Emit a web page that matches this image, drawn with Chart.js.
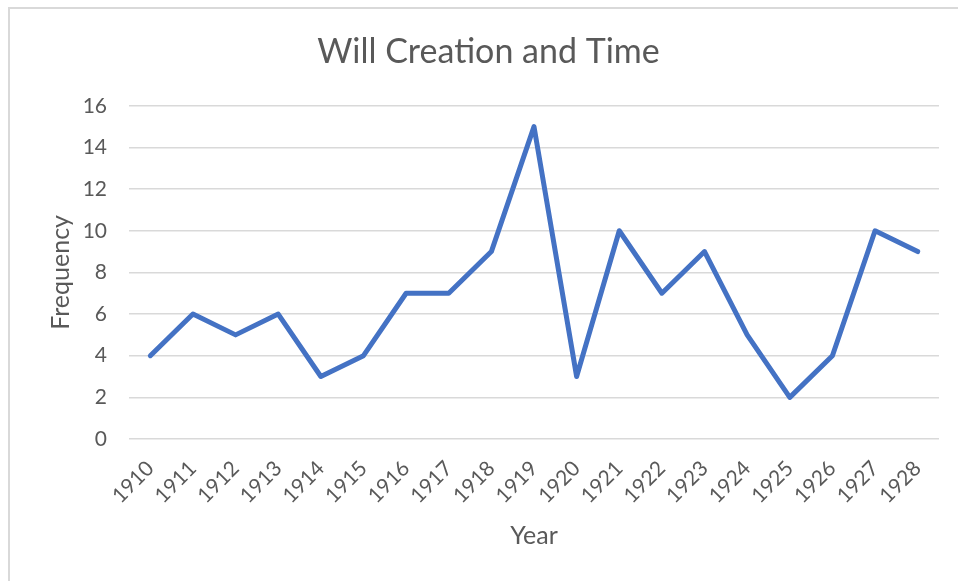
<!DOCTYPE html>
<html>
<head>
<meta charset="utf-8">
<script src="https://cdn.jsdelivr.net/npm/chart.js@4/dist/chart.umd.min.js"></script>
<style>
  html, body { margin: 0; padding: 0; background: #ffffff; }
  body { width: 958px; height: 581px; position: relative; overflow: hidden; }
  #frame { position: absolute; left: 8px; top: 7px; width: 1000px; height: 700px;
           border-top: 2px solid #d9d9d9; border-left: 2px solid #d9d9d9; box-sizing: border-box; }
  #wrap { position: absolute; left: 0; top: 0; width: 958px; height: 581px; }
</style>
</head>
<body>
<div id="frame"></div>
<div id="wrap"><canvas id="c" width="958" height="581"></canvas></div>
<script>
const years = ["1910","1911","1912","1913","1914","1915","1916","1917","1918","1919",
               "1920","1921","1922","1923","1924","1925","1926","1927","1928"];
const frequency = [4, 6, 5, 6, 3, 4, 7, 7, 9, 15, 3, 10, 7, 9, 5, 2, 4, 10, 9];
const chartTitle = "Will Creation and Time";
const xTitle = "Year";
const yTitle = "Frequency";
const yMin = 0, yMax = 16, yStep = 2;

const FONT = "Lato, 'Open Sans', sans-serif";
const TXT = "#595959";

new Chart(document.getElementById('c'), {
  type: 'line',
  data: {
    labels: years,
    datasets: [{
      label: yTitle,
      data: frequency,
      borderColor: '#4472C4',
      backgroundColor: '#4472C4',
      borderWidth: 5,
      pointRadius: 0,
      tension: 0,
      borderCapStyle: 'round',
      borderJoinStyle: 'round',
      fill: false
    }]
  },
  options: {
    responsive: false,
    animation: false,
    layout: { padding: { left: 38, right: 19, top: 0, bottom: 0 } },
    plugins: {
      legend: { display: false },
      tooltip: { enabled: false },
      title: {
        display: true,
        text: chartTitle,
        color: TXT,
        font: { family: FONT, size: 34, weight: 'normal', lineHeight: 1.2 },
        padding: { top: 32, bottom: 33 }
      }
    },
    scales: {
      x: {
        offset: true,
        grid: { display: false, drawTicks: false },
        border: { display: false },
        ticks: {
          color: TXT,
          font: { family: FONT, size: 21 },
          maxRotation: 45, minRotation: 45,
          autoSkip: false,
          padding: 17
        },
        title: {
          display: true, text: xTitle, color: TXT,
          font: { family: FONT, size: 25, lineHeight: 1.2 },
          padding: { top: 0, bottom: 30 }
        },
        afterFit: (s) => { s.height = 142; }
      },
      y: {
        min: yMin, max: yMax,
        grid: { color: '#d9d9d9', lineWidth: 1.5, drawTicks: false },
        border: { display: false },
        ticks: {
          stepSize: yStep,
          color: TXT,
          font: { family: FONT, size: 21 },
          padding: 22
        },
        title: {
          display: true, text: yTitle, color: TXT,
          font: { family: FONT, size: 25, lineHeight: 1.2 },
          padding: { top: 8, bottom: 0 }
        },
        afterFit: (s) => { s.width = 91; }
      }
    }
  }
});
</script>
</body>
</html>
